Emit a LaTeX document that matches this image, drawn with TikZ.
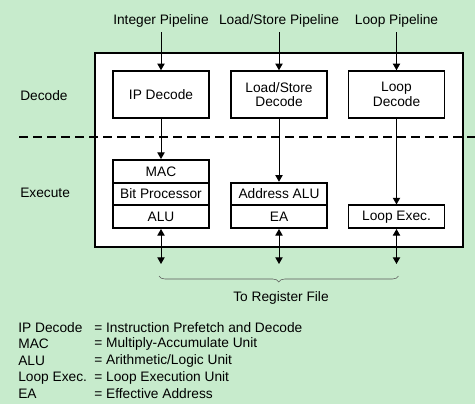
\documentclass[tikz,border=0pt]{standalone}
\usepackage{fontspec}
\setmainfont{Liberation Sans}
\usetikzlibrary{arrows.meta, decorations.pathreplacing}

\definecolor{bggreen}{RGB}{199,235,204}

\tikzset{
  unit/.style={draw, line width=1.4pt, fill=white, minimum width=72pt, minimum height=35pt, align=center, inner sep=1pt},
  row/.style={draw, line width=1.4pt, fill=white, minimum width=72pt, minimum height=17pt, inner sep=1pt},
  flow/.style={-{Triangle[length=5pt,width=5.5pt]}, line width=0.75pt},
  dataflow/.style={{Triangle[length=5pt,width=5.5pt]}-{Triangle[length=5pt,width=5.5pt]}, line width=0.75pt},
}

\begin{document}
\begin{tikzpicture}[x=0.75pt, y=-0.75pt, font=\fontsize{10.3}{11}\selectfont]
    \fill[bggreen] (0,0) rectangle (475,404);
    \useasboundingbox (0,0) rectangle (475,404);

    % core outline and stage separator
    \draw[line width=1.5pt, fill=white] (95,53) rectangle (463,247);
    \draw[line width=1.5pt, dash pattern=on 6.75pt off 3.75pt] (19,137) -- (475,137);

    % stage labels
    \node[anchor=west] (decode) at (15.6,96) {Decode};
    \node[anchor=west] (execute) at (15.6,193) {Execute};

    % pipelines
    \node (intpipe) at (161,21) {Integer Pipeline};
    \node (lspipe) at (279,21) {Load/Store Pipeline};
    \node (looppipe) at (396.5,21) {Loop Pipeline};

    % decode units
    \node[unit] (ipdec) at (161,94.5) {IP Decode};
    \node[unit] (lsdec) at (279,94.5) {Load/Store\\Decode};
    \node[unit] (loopdec) at (396.5,94.5) {Loop\\Decode};

    % execute units
    \node[row] (mac) at (161,171.3) {MAC};
    \node[row] (bitproc) at (161,194) {Bit Processor};
    \node[row] (alu) at (161,216.7) {ALU};
    \node[row] (addralu) at (279,194) {Address ALU};
    \node[row] (ea) at (279,216.7) {EA};
    \node[row] (loopexec) at (396.5,216.7) {Loop Exec.};

    \draw[flow] (intpipe) -- (ipdec);
    \draw[flow] (lspipe) -- (lsdec);
    \draw[flow] (looppipe) -- (loopdec);
    \draw[flow] (ipdec) -- (mac);
    \draw[flow] (lsdec) -- (addralu);
    \draw[flow] (loopdec) -- (loopexec);

    % register file
    \coordinate (rf1) at (161,264);
    \coordinate (rf2) at (279,264);
    \coordinate (rf3) at (396.5,264);
    \draw[dataflow] (alu) -- (rf1);
    \draw[dataflow] (ea) -- (rf2);
    \draw[dataflow] (loopexec) -- (rf3);
    \draw[gray!70!black, thin, decorate, decoration={brace, mirror, amplitude=4.5pt}]
        ([xshift=-1.5pt, yshift=-9pt]rf1) -- ([xshift=1.5pt, yshift=-9pt]rf3);
    \node (regfile) at (281,298) {To Register File};

    % legend
    \node[anchor=west] (k1) at (13.6,327.3) {IP Decode};
    \node[anchor=west] (k2) at (13.6,344) {MAC};
    \node[anchor=west] (k3) at (13.6,361) {ALU};
    \node[anchor=west] (k4) at (13.6,378) {Loop Exec.};
    \node[anchor=west] (k5) at (13.6,394) {EA};
    \node[anchor=west] (v1) at (89.6,327.3) {= Instruction Prefetch and Decode};
    \node[anchor=west] (v2) at (89.6,344) {= Multiply-Accumulate Unit};
    \node[anchor=west] (v3) at (89.6,361) {= Arithmetic/Logic Unit};
    \node[anchor=west] (v4) at (89.6,378) {= Loop Execution Unit};
    \node[anchor=west] (v5) at (89.6,394) {= Effective Address};
\end{tikzpicture}
\end{document}
